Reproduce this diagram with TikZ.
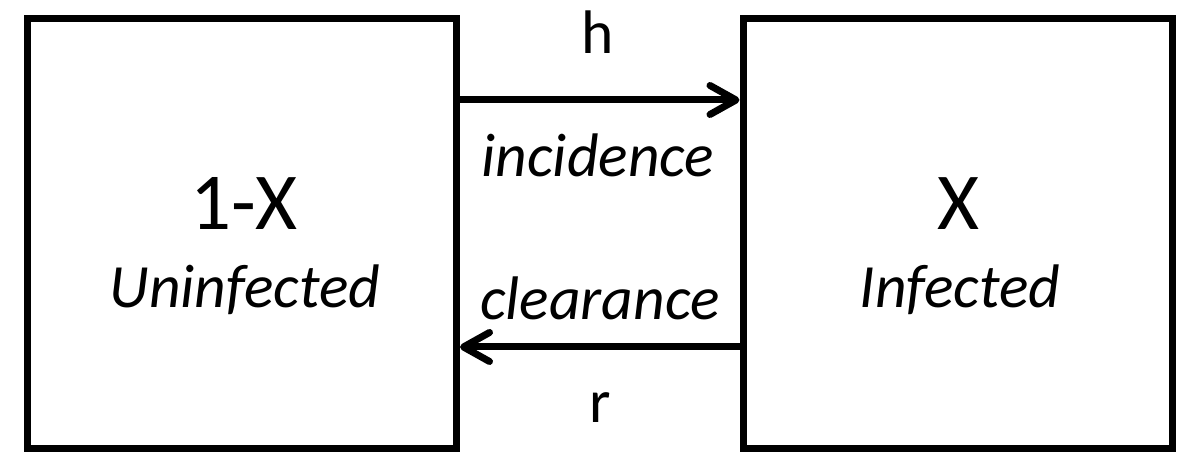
\documentclass[tikz,border=0pt]{standalone}
\usepackage{fontspec}
\setmainfont{Carlito}
\usetikzlibrary{arrows.meta,positioning,calc}

\begin{document}
\begin{tikzpicture}[
  state/.style={rectangle,draw=black,line width=0.7mm,minimum width=4.29cm,minimum height=4.30cm,inner sep=0pt},
  count/.style={anchor=base,font=\fontsize{23}{27}\selectfont,inner sep=0pt},
  kind/.style={anchor=base,font=\fontsize{17.5}{21}\selectfont\itshape,inner sep=0pt},
  rate/.style={anchor=base,font=\fontsize{17.5}{21}\selectfont,inner sep=0pt},
  flow/.style={line width=0.7mm,-{Straight Barb[length=2.6mm,width=2.9mm,round]}}
]
\useasboundingbox (0,0) rectangle (12,4.71);
\node[state] (unbox) at (2.42,2.375) {};
\node[state] (inbox) at (9.575,2.375) {};
\node[count] (unx) at (2.44,2.41) {1-X};
\node[kind] (unlab) at (2.45,1.63) {Uninfected};
\node[count] (inx) at (9.58,2.41) {X};
\node[kind] (inlab) at (9.60,1.63) {Infected};
\coordinate (inc) at (6,3.71);
\coordinate (clr) at (6,1.24);
\draw[flow] (unbox.east |- inc) -- (inbox.west |- inc);
\draw[flow] (inbox.west |- clr) -- (unbox.east |- clr);
\node[rate] (hrate) at (5.98,4.17) {h};
\node[kind] (inclab) at (5.98,2.94) {incidence};
\node[kind] (clrlab) at (6.00,1.51) {clearance};
\node[rate] (rrate) at (6.00,0.48) {r};
\end{tikzpicture}
\end{document}
